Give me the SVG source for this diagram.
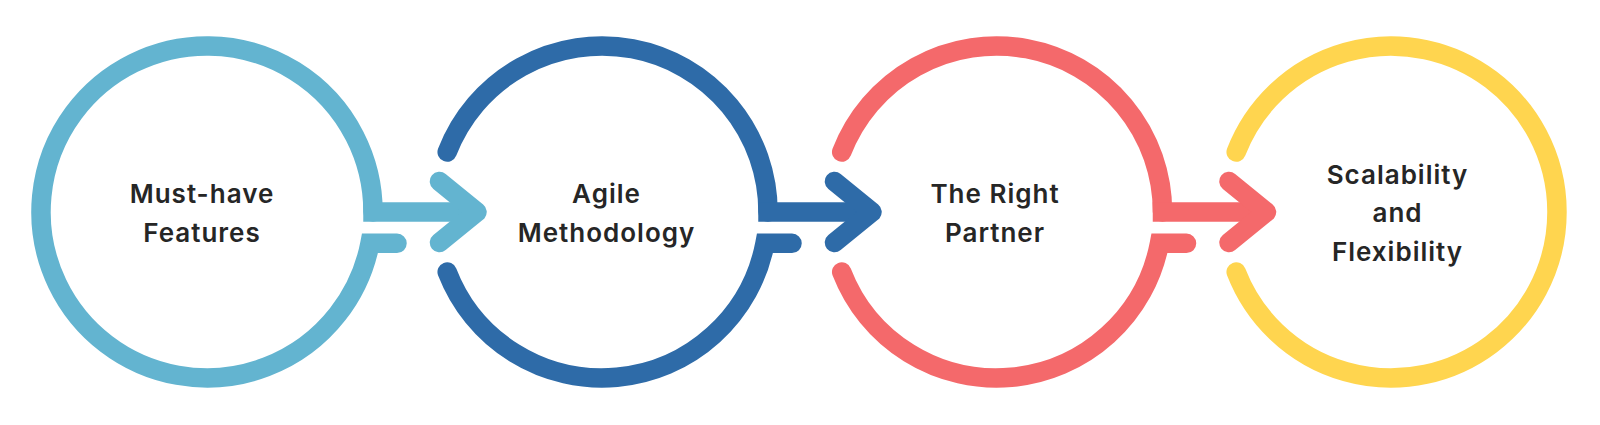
<svg xmlns="http://www.w3.org/2000/svg" width="1600" height="425" viewBox="0 0 1600 425">
  <style>
    .ring { fill: none; stroke-width: 19.5; stroke-linecap: round; stroke-linejoin: miter; }
    .bar { fill: none; stroke-width: 19.5; stroke-linecap: butt; }
    .chev { fill: none; stroke-width: 19.5; stroke-linecap: round; stroke-linejoin: round; }
    .c1 { stroke: #63B4D0; }
    .c2 { stroke: #2E6BA8; }
    .c3 { stroke: #F4696B; }
    .c4 { stroke: #FFD54F; }
    .label { font-family: Inter, "Noto Sans", "Liberation Sans", sans-serif; font-weight: 600; font-size: 26px; fill: #262626; text-anchor: middle; letter-spacing: 1px; }
  </style>
  <rect width="1600" height="425" fill="#FFFFFF"/>

  <g id="node-1">
    <path class="ring c1" d="M 397,243.3 L 370,243.3 A 166 166 0 1 1 373,212"/>
    <text class="label" x="202" y="203.3">Must-have</text>
    <text class="label" x="202" y="241.7">Features</text>
  </g>

  <g id="node-2">
    <path class="ring c2" d="M 792,243.3 L 765,243.3 A 166 166 0 0 1 447.2,272"/>
    <path class="ring c2" d="M 447.2,152 A 166 166 0 0 1 768,212"/>
    <text class="label" x="606.5" y="203.3">Agile</text>
    <text class="label" x="606.5" y="241.7">Methodology</text>
  </g>

  <g id="node-3">
    <path class="ring c3" d="M 1186.5,243.3 L 1159.5,243.3 A 166 166 0 0 1 841.7,272"/>
    <path class="ring c3" d="M 841.7,152 A 166 166 0 0 1 1162.5,212"/>
    <text class="label" x="995" y="203.3">The Right</text>
    <text class="label" x="995" y="241.7">Partner</text>
  </g>

  <g id="node-4">
    <path class="ring c4" d="M 1236.2,152 A 166 166 0 1 1 1236.2,272"/>
    <text class="label" x="1397.5" y="183.5">Scalability</text>
    <text class="label" x="1397.5" y="222">and</text>
    <text class="label" x="1397.5" y="260.5">Flexibility</text>
  </g>

  <g id="connectors">
    <path class="bar c1" d="M 363.25,212 H 477"/>
    <path class="chev c1" d="M 439.5,181.5 L 477,212 L 439.5,242.5"/>
    <path class="bar c2" d="M 758.25,212 H 872"/>
    <path class="chev c2" d="M 834.5,181.5 L 872,212 L 834.5,242.5"/>
    <path class="bar c3" d="M 1152.75,212 H 1266.5"/>
    <path class="chev c3" d="M 1229,181.5 L 1266.5,212 L 1229,242.5"/>
  </g>
</svg>
